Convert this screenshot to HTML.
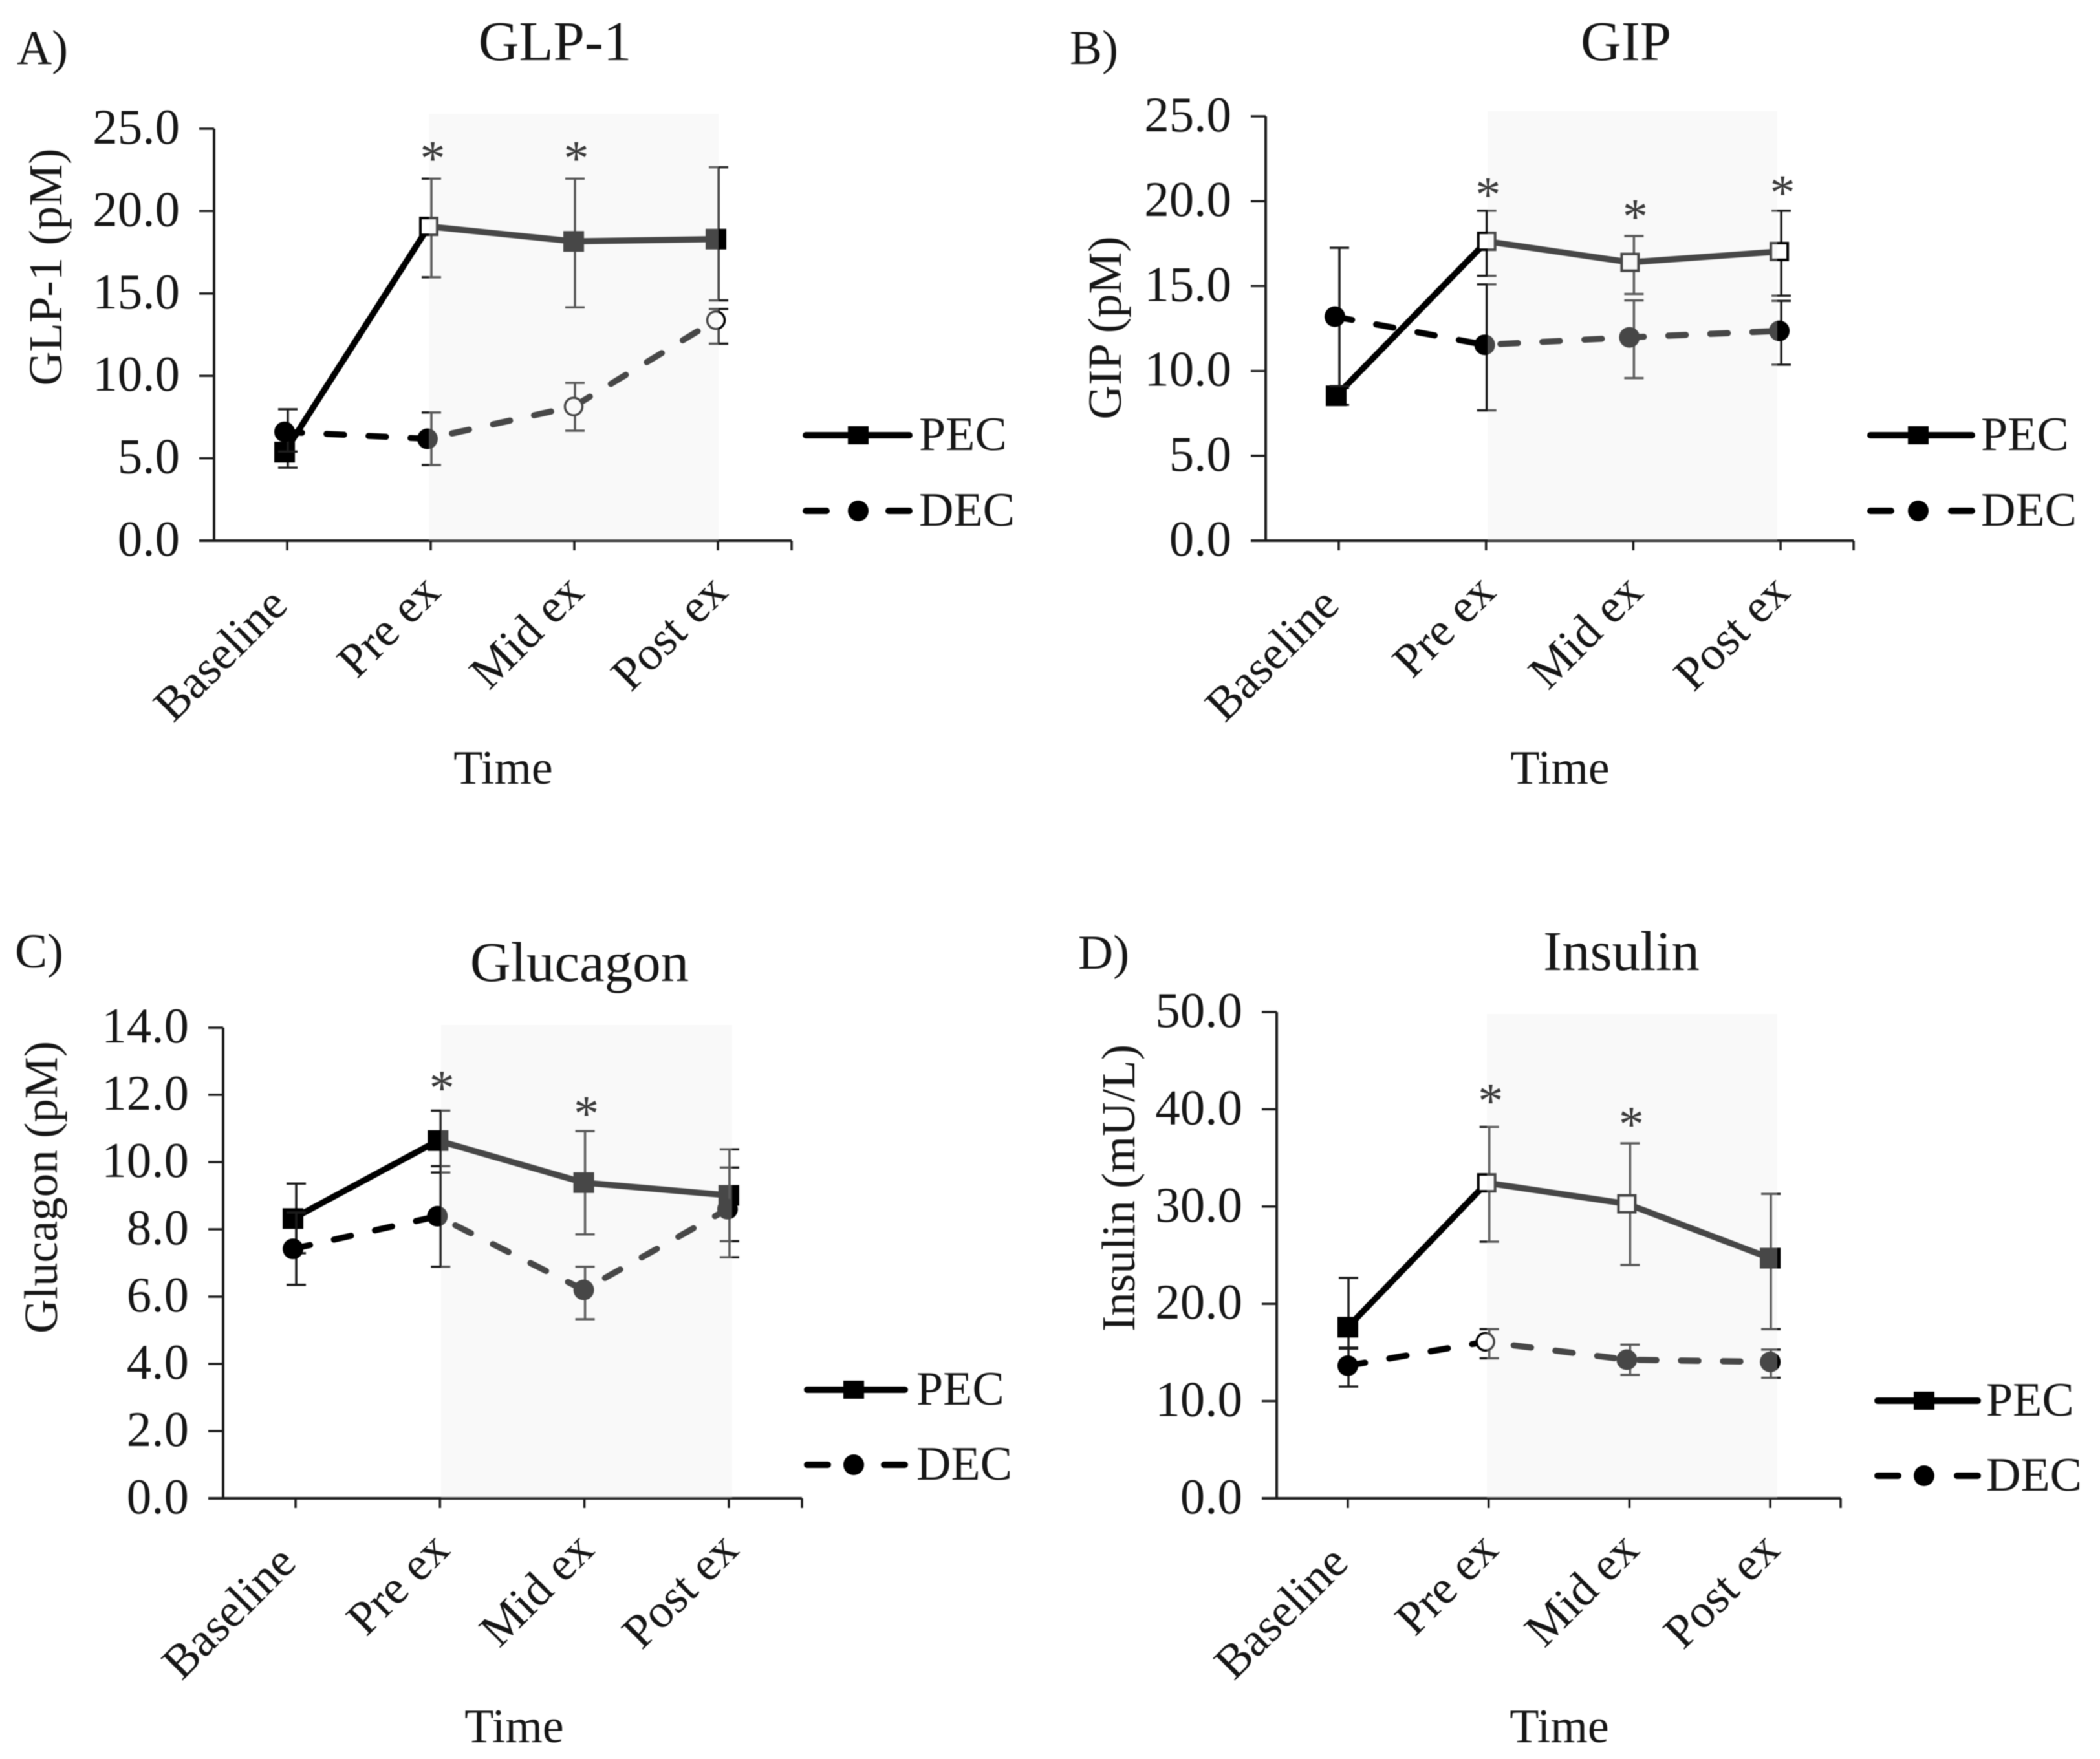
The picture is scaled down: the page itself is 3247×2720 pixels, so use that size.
<!DOCTYPE html>
<html lang="en">
<head>
<meta charset="utf-8">
<title>GLP-1, GIP, Glucagon and Insulin time course</title>
<style>
html,body{margin:0;padding:0;background:#fff;}
#figure{display:block;width:3247px;height:2720px;filter:blur(0.9px);}
text{font-family:"Liberation Serif","Times New Roman",serif;fill:#161616;}
</style>
</head>
<body>
<svg id="figure" xmlns="http://www.w3.org/2000/svg" width="3247" height="2720" viewBox="0 0 3247 2720"></svg>
<script>
const categories = ['Baseline', 'Pre ex', 'Mid ex', 'Post ex'];

const glp1Ticks = ['0.0', '5.0', '10.0', '15.0', '20.0', '25.0'];
const glp1PecMean = [5.37, 19.07, 18.16, 18.3];
const glp1PecUpper = [6.3, 21.97, 21.97, 22.66];
const glp1PecLower = [4.43, 15.98, 14.16, 14.58];
const glp1PecHollow = [0, 1, 0, 0];
const glp1DecMean = [6.6, 6.18, 8.14, 13.38];
const glp1DecUpper = [7.97, 7.78, 9.57, 14.06];
const glp1DecLower = [5.4, 4.59, 6.67, 11.95];
const glp1DecHollow = [0, 0, 1, 1];
const glp1Stars = [null, 23.5, 23.5, null];

const gipTicks = ['0.0', '5.0', '10.0', '15.0', '20.0', '25.0'];
const gipPecMean = [8.53, 17.64, 16.4, 17.04];
const gipPecUpper = [9.0, 19.44, 17.95, 19.44];
const gipPecLower = [8.0, 15.6, 14.54, 14.44];
const gipPecHollow = [0, 1, 1, 1];
const gipDecMean = [13.2, 11.54, 11.98, 12.36];
const gipDecUpper = [17.26, 15.1, 14.16, 14.13];
const gipDecLower = [9.1, 7.68, 9.58, 10.37];
const gipDecHollow = [0, 0, 0, 0];
const gipStars = [null, 20.7, 19.4, 20.8];

const glucagonTicks = ['0.0', '2.0', '4.0', '6.0', '8.0', '10.0', '12.0', '14.0'];
const glucagonPecMean = [8.32, 10.64, 9.39, 9.01];
const glucagonPecUpper = [9.36, 11.53, 10.92, 10.38];
const glucagonPecLower = [7.29, 9.69, 7.85, 7.65];
const glucagonPecHollow = [0, 0, 0, 0];
const glucagonDecMean = [7.42, 8.39, 6.2, 8.6];
const glucagonDecUpper = [8.5, 9.88, 6.89, 9.84];
const glucagonDecLower = [6.35, 6.89, 5.33, 7.17];
const glucagonDecHollow = [0, 0, 0, 0];
const glucagonStars = [null, 12.36, 11.6, null];

const insulinTicks = ['0.0', '10.0', '20.0', '30.0', '40.0', '50.0'];
const insulinPecMean = [17.6, 32.44, 30.28, 24.7];
const insulinPecUpper = [22.67, 38.2, 36.5, 31.3];
const insulinPecLower = [15.4, 26.4, 24.0, 17.4];
const insulinPecHollow = [0, 1, 1, 0];
const insulinDecMean = [13.64, 16.1, 14.26, 14.03];
const insulinDecUpper = [15.5, 17.4, 15.8, 15.3];
const insulinDecLower = [11.5, 14.4, 12.7, 12.4];
const insulinDecHollow = [0, 1, 0, 0];
const insulinStars = [null, 41.4, 39.0, null];

const panels = [
  {key:'glp1', letter:'A)', title:'GLP-1', yLabel:'GLP-1 (pM)', ticks:glp1Ticks,
   pec:[glp1PecMean,glp1PecUpper,glp1PecLower,glp1PecHollow], dec:[glp1DecMean,glp1DecUpper,glp1DecLower,glp1DecHollow], stars:glp1Stars,
   axisX:331, top:199, bottom:836, right:1224, x0:444, step:222, shadeL:663, shadeR:1111, shadeT:176, pecDx:[-4,-3,-1,-3], decDx:[-4,-5,-1,-3],
   letterX:26, letterY:99, titleX:858, titleY:93, yLabelX:95, yLabelY:413, timeX:778, timeY:1212,
   legL:1243, legR:1409, legM:1327, legT:1421, legY1:673, legY2:790},
  {key:'gip', letter:'B)', title:'GIP', yLabel:'GIP (pM)', ticks:gipTicks,
   pec:[gipPecMean,gipPecUpper,gipPecLower,gipPecHollow], dec:[gipDecMean,gipDecUpper,gipDecLower,gipDecHollow], stars:gipStars,
   axisX:1957, top:180, bottom:836, right:2866, x0:2070, step:227.7, shadeL:2300, shadeR:2748, shadeT:172, pecDx:[-4,1,-5,-2], decDx:[-6,-2,-6,-2],
   letterX:1654, letterY:99, titleX:2514, titleY:93, yLabelX:1733, yLabelY:507, timeX:2412, timeY:1212,
   legL:2889, legR:3052, legM:2966, legT:3063, legY1:673, legY2:790},
  {key:'glucagon', letter:'C)', title:'Glucagon', yLabel:'Glucagon (pM)', ticks:glucagonTicks,
   pec:[glucagonPecMean,glucagonPecUpper,glucagonPecLower,glucagonPecHollow], dec:[glucagonDecMean,glucagonDecUpper,glucagonDecLower,glucagonDecHollow], stars:glucagonStars,
   axisX:345, top:1589, bottom:2317, right:1240, x0:457, step:223.3, shadeL:682, shadeR:1132, shadeT:1585, pecDx:[-4,-3,-1,0], decDx:[-4,-4,-1,-2],
   letterX:23, letterY:1496, titleX:896, titleY:1517, yLabelX:88, yLabelY:1836, timeX:795, timeY:2694,
   legL:1245, legR:1402, legM:1320, legT:1417, legY1:2149, legY2:2265},
  {key:'insulin', letter:'D)', title:'Insulin', yLabel:'Insulin (mU/L)', ticks:insulinTicks,
   pec:[insulinPecMean,insulinPecUpper,insulinPecLower,insulinPecHollow], dec:[insulinDecMean,insulinDecUpper,insulinDecLower,insulinDecHollow], stars:insulinStars,
   axisX:1974, top:1565, bottom:2317, right:2846, x0:2084, step:217.7, shadeL:2299, shadeR:2748, shadeT:1568, pecDx:[0,-3,-4,0], decDx:[0,-5,-4,0],
   letterX:1667, letterY:1498, titleX:2507, titleY:1500, yLabelX:1754, yLabelY:1837, timeX:2411, timeY:2694,
   legL:2900, legR:3061, legM:2975, legT:3071, legY1:2166, legY2:2282}
];

const svgNS = 'http://www.w3.org/2000/svg';
const INK = '#1c1c1c';
const TICK_FONT = 77;
const LABEL_FONT = 74;

function make(tag, parent, props) {
  const el = document.createElementNS(svgNS, tag);
  for (const k in props) el.setAttribute(k, props[k]);
  parent.appendChild(el);
  return el;
}
function xScale(p, i) { return p.x0 + i * p.step; }
function yScale(p, v) {
  const max = Number(p.ticks[p.ticks.length - 1]);
  return p.bottom - (v / max) * (p.bottom - p.top);
}

function drawSeries(p, g, series, name, dash, dxs) {
  const mean = series[0], upper = series[1], lower = series[2], hollow = series[3];
  const errs = make('g', g, {});
  
  
  mean.forEach(function (v, i) {
    const x = xScale(p, i) + 1, yU = yScale(p, upper[i]), yL = yScale(p, lower[i]);
    const d = 'M' + x + ' ' + yU + 'V' + yL + 'M' + (x - 15) + ' ' + yU + 'H' + (x + 15) + 'M' + (x - 15) + ' ' + yL + 'H' + (x + 15);
    const bar = make('path', errs, {d: d, fill: 'none', stroke: INK, 'stroke-width': 3.5});
    
    
  });
  const pts = mean.map(function (v, i) { return (xScale(p, i) + dxs[i]) + ',' + yScale(p, v); }).join(' ');
  const line = make('polyline', g, {points: pts, fill: 'none', stroke: '#000', 'stroke-width': 9.5, 'stroke-dasharray': dash ? '27 38' : 'none', 'stroke-linecap': dash ? 'round' : 'butt'});
  
  
  mean.forEach(function (v, i) {
    const x = xScale(p, i) + dxs[i], y = yScale(p, v);
    const fill = hollow[i] ? '#fff' : '#000';
    let m;
    if (name === 'pec') {
      const half = hollow[i] ? 13 : 16;
      m = make('rect', g, {x: x - half, y: y - half, width: 2 * half, height: 2 * half, fill: fill, stroke: '#000', 'stroke-width': hollow[i] ? 4 : 0});
    } else {
      m = make('circle', g, {cx: x, cy: y, r: hollow[i] ? 13.5 : 16, fill: fill, stroke: '#000', 'stroke-width': hollow[i] ? 3.5 : 0});
    }
    
    
  });
}

function addText(parent, str, x, y, size, anchor) {
  const t = make('text', parent, {x: x, y: y, 'font-size': size, 'text-anchor': anchor});
  t.textContent = str;
  return t;
}

function drawPanel(p, root) {
  const g = make('g', root, {});
  
  

  const letter = addText(g, p.letter, p.letterX, p.letterY, 75, 'start');
  
  

  const title = addText(g, p.title, p.titleX, p.titleY, 87, 'middle');
  
  

  const yl = addText(g, p.yLabel, 0, 0, 73, 'middle');
  yl.setAttribute('transform', 'translate(' + p.yLabelX + ' ' + p.yLabelY + ') rotate(-90)');
  
  

  const xl = addText(g, 'Time', p.timeX, p.timeY, 74, 'middle');
  
  

  const yAxis = make('line', g, {x1: p.axisX, x2: p.axisX, y1: p.top, y2: p.bottom, stroke: INK, 'stroke-width': 4});
  
  

  const xAxis = make('line', g, {x1: p.axisX - 23, x2: p.right, y1: p.bottom, y2: p.bottom, stroke: INK, 'stroke-width': 4});
  
  

  const endTick = make('line', g, {x1: p.right, x2: p.right, y1: p.bottom, y2: p.bottom + 15, stroke: INK, 'stroke-width': 3.5});
  
  

  p.ticks.forEach(function (lab) {
    const y = yScale(p, Number(lab));
    const tick = make('line', g, {x1: p.axisX - 23, x2: p.axisX, y1: y, y2: y, stroke: INK, 'stroke-width': 3.5});
    
    
    const txt = addText(g, lab, p.axisX - 53, y + 23, TICK_FONT, 'end');
    
    
  });

  categories.forEach(function (c, i) {
    const x = xScale(p, i);
    const tick = make('line', g, {x1: x, x2: x, y1: p.bottom, y2: p.bottom + 15, stroke: INK, 'stroke-width': 3.5});
    
    
    const dx = i === 0 ? 4 : 18;
    const dy = i === 0 ? 103 : 83;
    const txt = addText(g, c, 0, 0, LABEL_FONT, 'end');
    txt.setAttribute('transform', 'translate(' + (x + dx) + ' ' + (p.bottom + dy) + ') rotate(-45)');
    
    
  });

  drawSeries(p, g, p.pec, 'pec', false, p.pecDx);
  drawSeries(p, g, p.dec, 'dec', true, p.decDx);

  const shade = make('rect', g, {x: p.shadeL, y: p.shadeT, width: p.shadeR - p.shadeL, height: p.bottom - p.shadeT, fill: 'rgb(234,234,234)', 'fill-opacity': 0.3});
  
  

  p.stars.forEach(function (v, i) {
    if (v === null) return;
    const s = addText(g, '*', xScale(p, i) + 3, yScale(p, v) + 34, 78, 'middle');
    s.setAttribute('fill', '#3a3a3a');
    s.style.fill = '#3a3a3a';
    
    
  });

  const legPec = make('g', g, {});
  
  
  make('line', legPec, {x1: p.legL + 3, x2: p.legR - 3, y1: p.legY1, y2: p.legY1, stroke: '#000', 'stroke-width': 10, 'stroke-linecap': 'round'});
  make('rect', legPec, {x: p.legM - 16, y: p.legY1 - 14, width: 32, height: 28, fill: '#000'});
  addText(legPec, 'PEC', p.legT, p.legY1 + 23, 74, 'start');

  const legDec = make('g', g, {});
  
  
  make('line', legDec, {x1: p.legL + 3, x2: p.legL + 35, y1: p.legY2, y2: p.legY2, stroke: '#000', 'stroke-width': 10, 'stroke-linecap': 'round'});
  make('line', legDec, {x1: p.legR - 35, x2: p.legR - 3, y1: p.legY2, y2: p.legY2, stroke: '#000', 'stroke-width': 10, 'stroke-linecap': 'round'});
  make('circle', legDec, {cx: p.legM, cy: p.legY2, r: 16, fill: '#000'});
  addText(legDec, 'DEC', p.legT, p.legY2 + 23, 74, 'start');
}

const root = document.getElementById('figure');
panels.forEach(function (p) { drawPanel(p, root); });
</script>
</body>
</html>
